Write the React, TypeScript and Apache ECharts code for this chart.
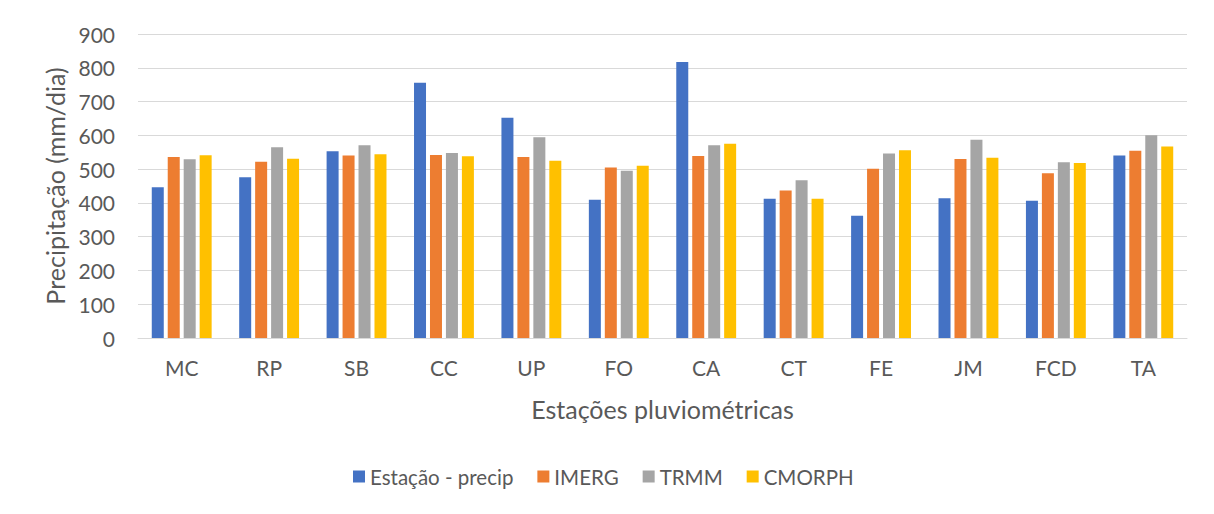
import React, { useEffect, useRef } from "react";
import * as echarts from "echarts";

const categories = ["MC", "RP", "SB", "CC", "UP", "FO", "CA", "CT", "FE", "JM", "FCD", "TA"];
const estacao = [446, 476, 553, 756, 652, 409, 817, 412, 362, 414, 406, 540];
const imerg = [536, 522, 540, 542, 536, 505, 539, 437, 501, 530, 488, 554];
const trmm = [529, 565, 571, 548, 594, 495, 571, 467, 546, 587, 520, 600];
const cmorph = [541, 531, 544, 538, 525, 510, 575, 412, 556, 534, 518, 567];
const seriesNames = ["Estação - precip", "IMERG", "TRMM", "CMORPH"];
const colors = ["#4472C4", "#ED7D31", "#A5A5A5", "#FFC000"];

const FONT = "Lato, 'Open Sans', sans-serif";
const TXT = "#595959";

export default function App() {
  const ref = useRef<HTMLDivElement>(null);
  useEffect(() => {
    if (!ref.current) return;
    const chart = echarts.init(ref.current, undefined, { renderer: "svg" });
    const data = [estacao, imerg, trmm, cmorph];
    chart.setOption({
      animation: false,
      backgroundColor: "#ffffff",
      textStyle: { fontFamily: FONT },
      graphic: [
        {
          type: "rect",
          shape: { x: 5.5, y: 5.5, width: 1203, height: 503 },
          style: { fill: "none", stroke: "#d9d9d9", lineWidth: 1 },
          silent: true,
        },
      ],
      grid: { left: 138, right: 27, top: 34, bottom: 176, containLabel: false },
      legend: {
        bottom: 22,
        left: 348,
        itemWidth: 12,
        itemHeight: 12,
        itemGap: 24,
        icon: "rect",
        textStyle: { fontFamily: FONT, fontSize: 20.5, color: TXT },
        data: seriesNames,
      },
      xAxis: {
        type: "category",
        data: categories,
        name: "Estações pluviométricas",
        nameLocation: "middle",
        nameGap: 58,
        nameTextStyle: { fontFamily: FONT, fontSize: 25, color: TXT },
        axisLine: { lineStyle: { color: "#d9d9d9", width: 1 } },
        axisTick: { show: false },
        axisLabel: { fontFamily: FONT, fontSize: 21, color: TXT, margin: 19 },
      },
      yAxis: {
        type: "value",
        min: 0,
        max: 900,
        interval: 100,
        name: "Precipitação (mm/dia)",
        nameLocation: "middle",
        nameGap: 71,
        nameTextStyle: { fontFamily: FONT, fontSize: 25, color: TXT },
        axisLine: { show: false },
        axisTick: { show: false },
        axisLabel: { fontFamily: FONT, fontSize: 21, color: TXT, margin: 23 },
        splitLine: { lineStyle: { color: "#d9d9d9", width: 1 } },
      },
      series: seriesNames.map((name, i) => ({
        name,
        type: "bar",
        data: data[i],
        barWidth: 12,
        barGap: "33%",
        itemStyle: { color: colors[i] },
      })),
    });
    return () => chart.dispose();
  }, []);
  return <div ref={ref} style={{ width: 1214, height: 514, margin: -8 }} />;
}
